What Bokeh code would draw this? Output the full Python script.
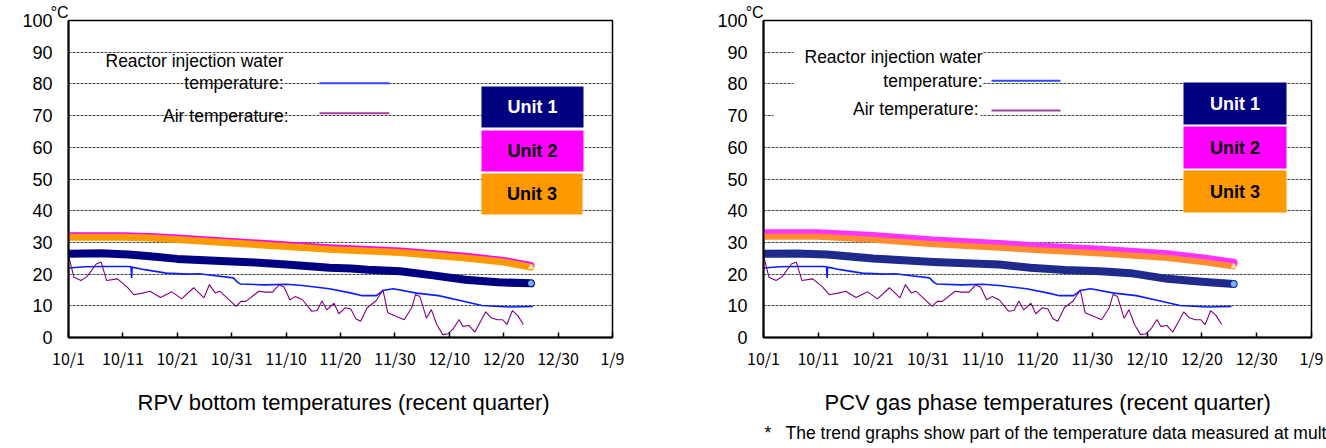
from bokeh.plotting import figure
from bokeh.layouts import row
from bokeh.models import FixedTicker, Label, BoxAnnotation, Range1d, Title, LinearAxis
from bokeh.embed import file_html
from bokeh.resources import INLINE

# ---------------- data (x = days since 10/1) ----------------
tick_days = [0, 10, 20, 30, 40, 50, 60, 70, 80, 90, 100]
tick_labels = ["10/1", "10/11", "10/21", "10/31", "11/10", "11/20",
               "11/30", "12/10", "12/20", "12/30", "1/9"]
y_ticks = [0, 10, 20, 30, 40, 50, 60, 70, 80, 90, 100]
unit_text = "°C"

# RPV bottom temperatures
rpv_u1_days = [0, 6, 11, 15, 20, 25, 30, 35, 40, 48, 52, 55, 61, 67, 73, 79, 85]
rpv_u1_vals = [26.4, 26.6, 26.2, 25.6, 24.8, 24.4, 24.0, 23.6, 23.0, 22.0, 21.8, 21.4, 20.9, 19.6, 18.2, 17.4, 17.1]
rpv_u2_days = [0, 10, 15, 20, 30, 43, 48, 61, 73, 80, 85]
rpv_u2_vals = [32.1, 32.1, 31.9, 31.4, 30.3, 28.9, 28.3, 27.3, 25.6, 24.3, 22.7]
rpv_u3_days = [0, 10, 15, 20, 30, 43, 48, 61, 73, 80, 85]
rpv_u3_vals = [31.6, 31.6, 31.4, 30.9, 29.8, 28.4, 27.8, 26.8, 25.1, 23.8, 22.2]

# PCV gas phase temperatures
pcv_u1_days = [0, 6, 11.6, 20, 31, 43, 48.7, 55, 61.5, 67, 73.7, 80, 85.8]
pcv_u1_vals = [26.4, 26.5, 26.2, 24.9, 23.8, 23.0, 22.0, 21.3, 20.9, 20.3, 18.5, 17.6, 16.9]
pcv_u2_days = [0, 10, 20, 31, 43, 48.7, 61.5, 73.7, 80, 85.8]
pcv_u2_vals = [32.9, 32.9, 32.0, 30.6, 29.5, 28.9, 27.7, 26.3, 25.0, 23.6]
pcv_u3_days = [0, 10, 20, 31, 43, 48.7, 61.5, 73.7, 80, 85.8]
pcv_u3_vals = [31.8, 31.8, 30.8, 29.4, 28.3, 27.7, 26.5, 25.1, 23.8, 22.4]

# Reactor injection water temperature
inj_days = [0, 3, 6, 11, 11.5, 11.6, 11.7, 14, 18, 22, 24, 27, 30.3, 31.1, 31.6, 36, 40,
            43, 48, 52, 54, 56.6, 57.8, 59.7, 64, 68, 72, 76, 81, 85.4]
inj_vals = [21.9, 22.3, 22.4, 22.4, 22.3, 18.8, 22.2, 21.4, 20.3, 20.0, 20.1, 19.5, 18.8, 17.4, 16.9, 16.6, 16.8,
            16.4, 15.4, 14.0, 13.2, 13.2, 14.8, 15.4, 14.0, 13.2, 11.7, 10.1, 9.6, 9.8]

# Air temperature
air_days = [0, 1, 2.3, 3.4, 5.1, 6, 7, 9, 10.8, 12, 13.6, 15, 16.9, 19, 20.8, 23, 24.9, 25.9, 27, 27.8,
            30.8, 31.7, 32.6, 35, 36.2, 37.5, 38.7, 39.6, 40.7, 41.7, 43, 44.7, 45.7, 46.6, 47.5,
            48.8, 49.7, 50.9, 51.9, 52.8, 53.7, 54.9, 56.5, 57.8, 58.7, 60.3, 61.7, 63.1, 63.8,
            64.6, 65.8, 66.7, 67.7, 68.8, 69.8, 70.7, 71.8, 72.5, 73.6, 74.7, 76.7, 77.7, 78.8,
            79.8, 80.6, 81.6, 82.6, 83.6]
air_vals = [25.9, 19.0, 18.0, 19.2, 23.2, 23.8, 18.0, 18.5, 15.9, 13.5, 14.0, 14.6, 12.6, 14.4, 12.2, 15.7, 12.5, 16.7, 14.0, 14.6,
            9.8, 11.4, 11.4, 14.6, 14.3, 14.3, 16.6, 15.9, 11.9, 12.9, 11.9, 8.3, 8.5, 11.5, 8.7,
            10.8, 7.5, 9.4, 9.0, 5.9, 5.1, 9.4, 11.5, 15.0, 7.8, 6.6, 5.6, 9.4, 13.6,
            12.9, 6.1, 8.8, 4.1, 0.9, 1.2, 2.7, 5.7, 3.5, 3.8, 1.7, 8.1, 6.2, 5.6,
            5.6, 4.1, 8.5, 6.9, 4.1]

unit_names = ["Unit 1", "Unit 2", "Unit 3"]
legend_lines = ["Reactor injection water", "temperature:", "Air temperature:"]
titles = ["RPV bottom temperatures (recent quarter)", "PCV gas phase temperatures (recent quarter)"]
footnote = "*\u00a0\u00a0 The trend graphs show part of the temperature data measured at mult"

# ---------------- styles ----------------
SANS = "'Liberation Sans', Arial, sans-serif"
TICKFONT = "'Noto Sans CJK JP', sans-serif"
NAVY = "#000080"
MAGENTA = "#FF00FF"
ORANGE = "#FF9900"
BLUE = "#0A1EFF"
PURPLE = "#800080"

H = 448
TOP = 20
BOTTOM = 111
PAGE_FRAME_TOP = 20
PAGE_FRAME_BOTTOM = 337


def make_chart(width, border_left, border_right, page_x0, page_x1, u_days, u_vals,
               u_colors, u_widths, title_text, leg, boxes, masks, title_left, foot=False):
    p = figure(width=width, height=H, x_range=Range1d(0, 100), y_range=Range1d(0, 100),
               output_backend="svg", toolbar_location=None,
               min_border_left=border_left, min_border_right=border_right,
               min_border_top=TOP, min_border_bottom=BOTTOM)
    p.outline_line_color = "black"
    p.outline_line_width = 1.5
    p.xgrid.visible = False
    p.ygrid.ticker = FixedTicker(ticks=y_ticks)
    p.ygrid.grid_line_color = "#4a4a4a"
    p.ygrid.grid_line_dash = "3 1"
    p.ygrid.grid_line_width = 1

    p.yaxis.ticker = FixedTicker(ticks=y_ticks)
    p.yaxis.major_tick_in = 0
    p.yaxis.major_tick_out = 0
    p.yaxis.minor_tick_line_color = None
    p.yaxis.major_label_standoff = 16
    p.yaxis.major_label_text_font = SANS
    p.yaxis.major_label_text_font_size = "18px"
    p.yaxis.major_label_text_color = "black"
    p.yaxis.axis_line_width = 2
    p.yaxis.axis_line_color = "black"

    # date axis (bottom)
    xa = p.below[0]
    xa.ticker = FixedTicker(ticks=tick_days)
    xa.major_label_overrides = {d: l for d, l in zip(tick_days, tick_labels)}
    xa.major_tick_in = 5
    xa.major_tick_out = 0
    xa.major_tick_line_width = 1.5
    xa.minor_tick_line_color = None
    xa.major_label_standoff = 8
    xa.major_label_text_font = TICKFONT
    xa.major_label_text_font_size = "16px"
    xa.major_label_text_color = "black"
    xa.axis_line_width = 2
    xa.axis_line_color = "black"

    # unit (°C) shown just above-left of the value axis top (via a bare top axis)
    deg_axis = LinearAxis(ticker=FixedTicker(ticks=[tick_days[0]]),
                          major_label_overrides={tick_days[0]: unit_text + "\u00a0" * 4},
                          axis_line_color=None, major_tick_line_color=None,
                          minor_tick_line_color=None, major_tick_in=0, major_tick_out=0,
                          major_label_standoff=0,
                          major_label_text_font=SANS, major_label_text_font_size="16px",
                          major_label_text_color="black")
    p.add_layout(deg_axis, "above")

    sx = 100.0 / (page_x1 - page_x0)
    sy = 100.0 / (PAGE_FRAME_BOTTOM - PAGE_FRAME_TOP)

    def X(px):
        return (px - page_x0) * sx

    def Y(py):
        return (PAGE_FRAME_BOTTOM - py) * sy

    # white masks behind the legend text
    for (x0, y0, x1, y1) in masks:
        p.add_layout(BoxAnnotation(left=X(x0), right=X(x1), top=Y(y0), bottom=Y(y1),
                                   fill_color="white", fill_alpha=1, line_color=None,
                                   level="underlay"))

    # series
    for d, v, c, w in zip(u_days, u_vals, u_colors, u_widths):
        p.line(d, v, line_color=c, line_width=w, line_cap="round", line_join="round")
    p.scatter([u_days[2][-1]], [u_vals[2][-1]], size=5, marker="circle",
              fill_color="#6fb7ff", line_color="#6fb7ff")
    p.scatter([u_days[1][-1]], [u_vals[1][-1]], size=5, marker="triangle",
              fill_color="#ffe0c0", line_color="#ffe0c0")
    p.line(inj_days, inj_vals, line_color=BLUE, line_width=1.6)
    p.line(air_days, air_vals, line_color=PURPLE, line_width=1.1)

    # legend text and keys
    (t1x, t1y), (t2x, t2y), (t3x, t3y), (kx0, kx1, kb, kp) = leg
    for txt, tx, ty in zip(legend_lines, [t1x, t2x, t3x], [t1y, t2y, t3y]):
        p.add_layout(Label(x=X(tx), y=Y(ty), text=txt, text_align="right",
                           text_baseline="middle", text_font=SANS,
                           text_font_size="17.5px", text_color="black"))
    p.segment(x0=[X(kx0)], y0=[Y(kb)], x1=[X(kx1)], y1=[Y(kb)], line_color="#3344ff", line_width=2)
    p.segment(x0=[X(kx0)], y0=[Y(kp)], x1=[X(kx1)], y1=[Y(kp)], line_color="#a040a0", line_width=2)

    # unit boxes
    box_colors = [NAVY, MAGENTA, ORANGE]
    text_colors = ["white", "black", "black"]
    for name, (x0, y0, x1, y1), bc, tc in zip(unit_names, boxes, box_colors, text_colors):
        p.add_layout(BoxAnnotation(left=X(x0), right=X(x1), top=Y(y0), bottom=Y(y1),
                                   fill_color=bc, fill_alpha=1, line_color=None))
        p.add_layout(Label(x=X((x0 + x1) / 2), y=Y((y0 + y1) / 2), text=name,
                           text_align="center", text_baseline="middle",
                           text_font=SANS, text_font_style="bold",
                           text_font_size="18px", text_color=tc))

    # spacer + chart title below
    p.add_layout(Title(text="\u00a0", text_font_size="1px", standoff=5.5), "below")
    p.add_layout(Title(text=title_text, align="left", offset=title_left - page_x0,
                       text_font=SANS, text_font_size="22px", text_font_style="normal",
                       text_color="black", standoff=12), "below")
    if foot:
        p.add_layout(Title(text=footnote, align="left", offset=1,
                           text_font=SANS, text_font_size="17.5px", text_font_style="normal",
                           text_color="black", standoff=1), "below")
    return p


left = make_chart(
    width=700, border_left=68, border_right=88, page_x0=68, page_x1=612,
    u_days=[rpv_u2_days, rpv_u3_days, rpv_u1_days],
    u_vals=[rpv_u2_vals, rpv_u3_vals, rpv_u1_vals],
    u_colors=[MAGENTA, ORANGE, NAVY], u_widths=[7, 7, 8],
    title_text=titles[0],
    leg=[(283, 60), (283, 82), (288, 115), (319, 389, 82.7, 112.7)],
    boxes=[(481, 86, 583, 127), (481, 130, 583, 171), (481, 173, 582, 214)],
    masks=[], title_left=137)

right = make_chart(
    width=626, border_left=63, border_right=15, page_x0=763, page_x1=1311,
    u_days=[pcv_u2_days, pcv_u3_days, pcv_u1_days],
    u_vals=[pcv_u2_vals, pcv_u3_vals, pcv_u1_vals],
    u_colors=["#FF33FF", "#FF8C2E", "#1E2A8C"], u_widths=[8, 6, 8],
    title_text=titles[1],
    leg=[(982, 56), (982, 80), (978, 108), (991, 1060, 80.3, 110)],
    boxes=[(1183, 82, 1286, 124), (1183, 126, 1286, 168), (1183, 170, 1286, 212)],
    masks=[(793, 42, 982, 100), (773, 100, 980, 123)], title_left=824, foot=True)

layout = row(left, right, spacing=0)
open("out.html", "w").write(file_html(layout, INLINE))
